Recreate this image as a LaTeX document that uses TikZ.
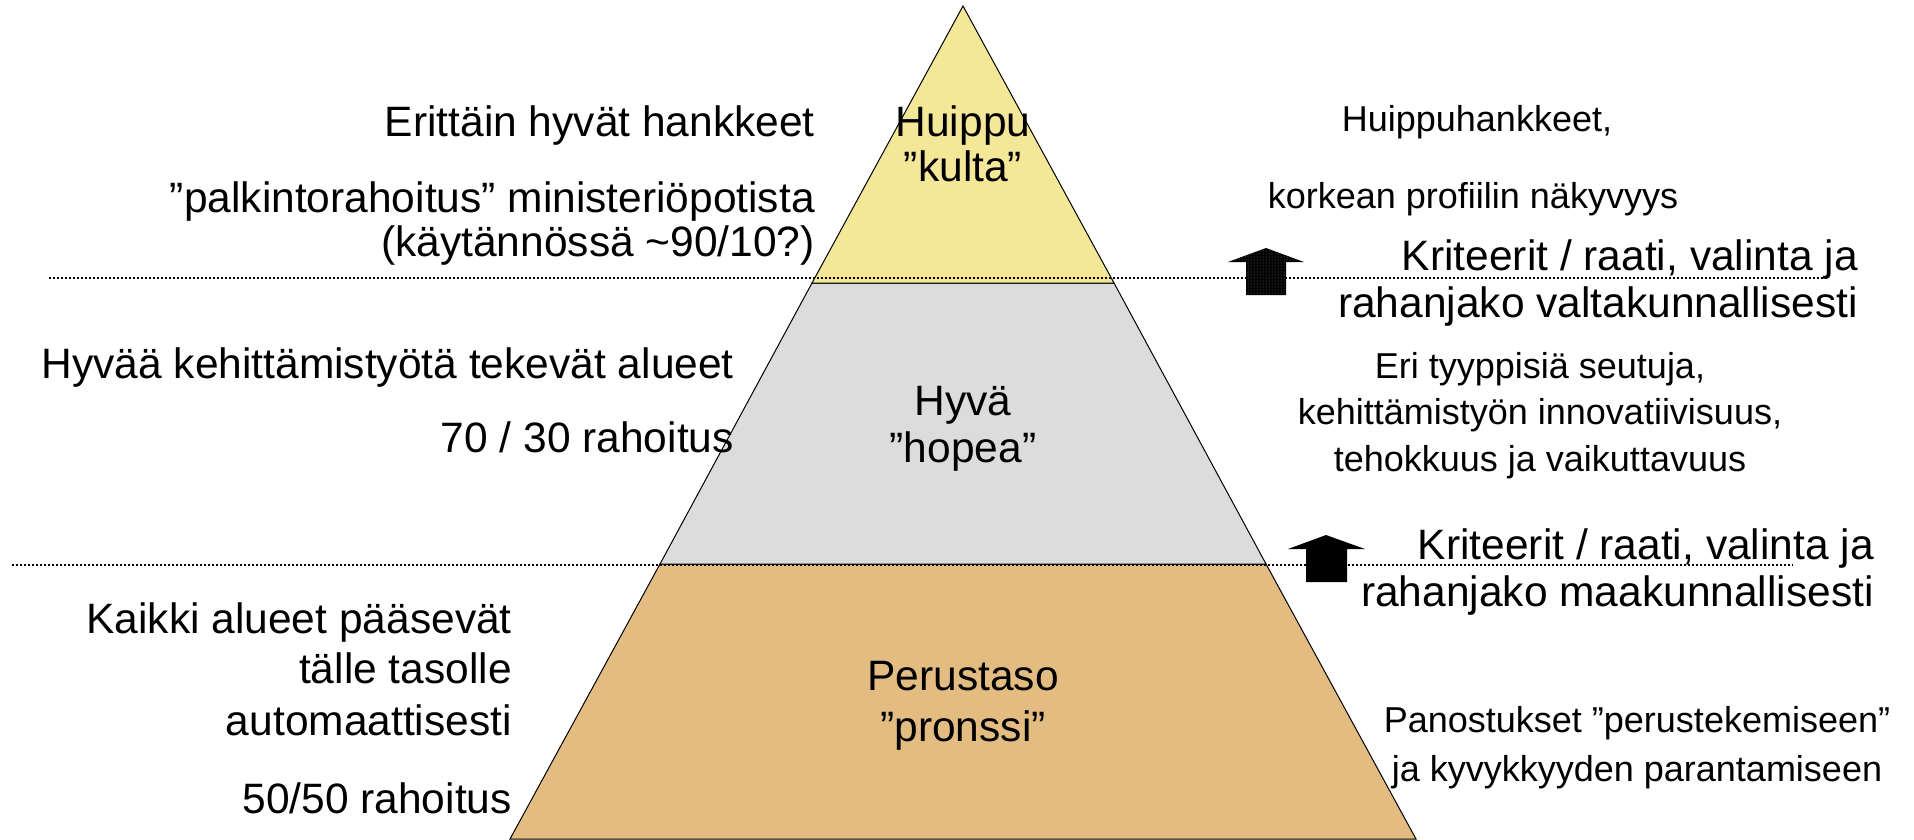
\documentclass[tikz,border=0pt]{standalone}
\usepackage{fontspec}
\setmainfont{Liberation Sans}
\usetikzlibrary{patterns}

\definecolor{gold}{RGB}{244,232,152}
\definecolor{silver}{RGB}{220,220,220}
\definecolor{bronze}{RGB}{227,188,130}

\begin{document}
\begin{tikzpicture}[
  x=1pt, y=-1pt,
  big/.style={font=\fontsize{42.5}{47}\selectfont, inner sep=0pt},
  small/.style={font=\fontsize{36}{47}\selectfont, inner sep=0pt},
  band/.style={draw, line width=1pt},
  cutline/.style={line width=1.6pt, dash pattern=on 1.6pt off 2.4pt},
  blockarrow/.style={fill=black}
]
\useasboundingbox (0,0) rectangle (1914,839);

% Pyramid corners
\coordinate (apex) at (963,6);
\coordinate (gl) at (812,283);
\coordinate (gr) at (1114,283);
\coordinate (sl) at (660,564);
\coordinate (sr) at (1266,564);
\coordinate (bl) at (510,839);
\coordinate (br) at (1416,839);

% Bands
\filldraw[band, fill=bronze] (sl) -- (sr) -- (br) -- (bl) -- cycle;
\filldraw[band, fill=silver] (gl) -- (gr) -- (sr) -- (sl) -- cycle;
\filldraw[band, fill=gold] (apex) -- (gr) -- (gl) -- cycle;

% Dotted level lines
\coordinate (c1a) at (49,278);
\coordinate (c1b) at (1828,278);
\coordinate (c2a) at (12,565);
\coordinate (c2b) at (1793,565);
\draw[cutline] (c1a) -- (c1b);
\draw[cutline] (c2a) -- (c2b);

% Block arrows
\fill[blockarrow, postaction={pattern=dots, pattern color=gray}]
  (1266,248) -- (1304,262) -- (1286,262) -- (1286,295) -- (1246,295)
  -- (1246,262) -- (1228,262) -- cycle;
\fill[blockarrow]
  (1326,535) -- (1365,549) -- (1347,549) -- (1347,582) -- (1306,582)
  -- (1306,549) -- (1288,549) -- cycle;

% Tier names (base = last line)
\node[big, anchor=base, align=center, font=\fontsize{42.5}{45}\selectfont] (kulta) at (963,181) {Huippu\\”kulta”};
\node[big, anchor=base, align=center] (hopea) at (963,462) {Hyvä\\”hopea”};
\node[big, anchor=base, align=center, font=\fontsize{42.5}{51}\selectfont] (pronssi) at (963,741) {Perustaso\\”pronssi”};

% Left texts
\node[big, anchor=base east] (erit) at (815,136) {Erittäin hyvät hankkeet};
\node[big, anchor=base east] (palk) at (815,212) {”palkintorahoitus” ministeriöpotista};
\node[big, anchor=base east] (kayt) at (815,256) {(käytännössä \textasciitilde90/10?)};
\node[big, anchor=base east] (hyvaa) at (734,378) {Hyvää kehittämistyötä tekevät alueet};
\node[big, anchor=base east] (rah70) at (734,452) {70 / 30 rahoitus};
\node[big, anchor=base east] (kaikki) at (512,633) {Kaikki alueet pääsevät};
\node[big, anchor=base east] (talle) at (512,683) {tälle tasolle};
\node[big, anchor=base east] (auto) at (512,735) {automaattisesti};
\node[big, anchor=base east] (rah50) at (512,813) {50/50 rahoitus};

% Right texts (base = last line)
\node[small, anchor=base] (huippuh) at (1477,131) {Huippuhankkeet,};
\node[small, anchor=base] (korkea) at (1473,208) {korkean profiilin näkyvyys};
\node[big, anchor=base east, align=right] (krit1) at (1858,317) {Kriteerit / raati, valinta ja\\rahanjako valtakunnallisesti};
\node[small, anchor=base, align=center, font=\fontsize{36}{46.5}\selectfont] (seudut) at (1540,471) {Eri tyyppisiä seutuja,\\kehittämistyön innovatiivisuus,\\tehokkuus ja vaikuttavuus};
\node[big, anchor=base east, align=right] (krit2) at (1874,606) {Kriteerit / raati, valinta ja\\rahanjako maakunnallisesti};
\node[small, anchor=base, align=center, font=\fontsize{36}{49}\selectfont] (panos) at (1637,781) {Panostukset ”perustekemiseen”\\ja kyvykkyyden parantamiseen};

\end{tikzpicture}
\end{document}
